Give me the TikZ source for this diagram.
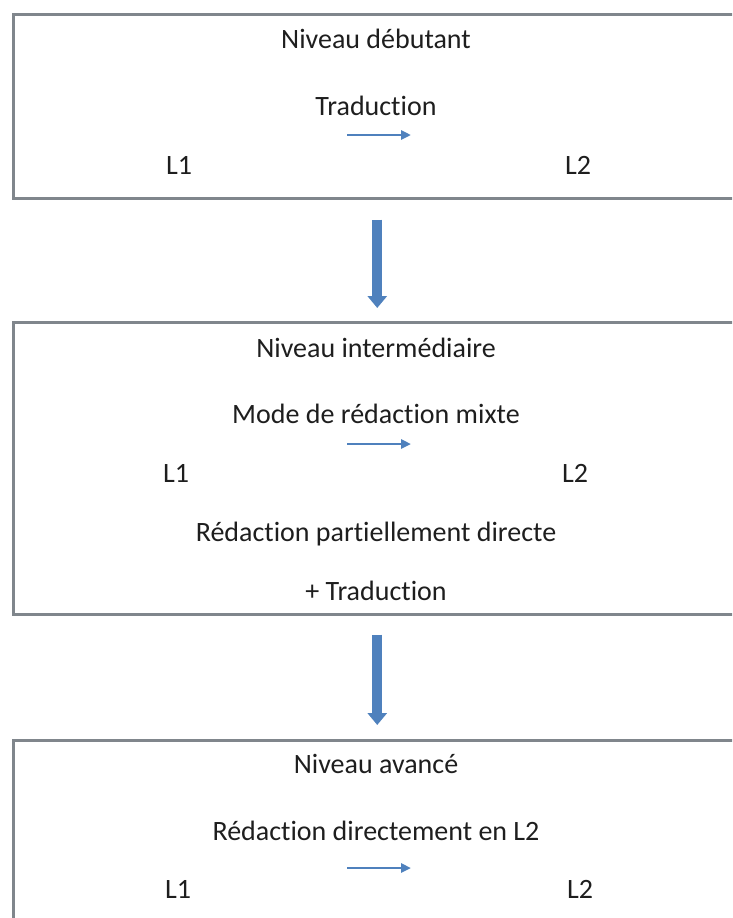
\documentclass[tikz,border=0pt]{standalone}
\usepackage{fontspec}
\setmainfont[Ligatures=NoCommon]{Carlito}
\usetikzlibrary{positioning, arrows.meta}

\definecolor{boxgray}{RGB}{128,134,140}
\definecolor{flowblue}{RGB}{79,129,189}
\definecolor{textgray}{RGB}{30,30,30}

\begin{document}
\begin{tikzpicture}[x=1pt, y=-1pt, font=\fontsize{28}{34}\selectfont, text=textgray]
  \tikzstyle{level}=[draw=boxgray, line width=2.5pt, minimum width=728pt, anchor=north west, inner sep=0pt]
  \tikzstyle{lbl}=[anchor=base, inner sep=0pt]
  \tikzstyle{bigarrow}=[flowblue, line width=10pt, -{Triangle[width=19pt, length=12pt]}]
  \tikzstyle{smallarrow}=[flowblue, line width=2.5pt, -{Triangle[width=9pt, length=10pt]}]

  \useasboundingbox (0,0) rectangle (732,918);
  \clip (0,0) rectangle (732,918);

  % levels
  \node[level, minimum height=184pt] (debutant) at (12,13) {};
  \node[level, minimum height=292pt] (inter) at (12,321) {};
  \node[level, minimum height=200pt] (avance) at (12,739) {};

  % beginner
  \node[lbl] (titre1) at (376,48) {Niveau débutant};
  \node[lbl] (mode1) at (376,115) {Traduction};
  \node[lbl] (src1) at (179,174) {L1};
  \node[lbl] (dst1) at (578,174) {L2};
  \coordinate (from1) at (347,135);
  \coordinate (to1) at (411,135);
  \draw[smallarrow] (from1) -- (to1);

  % intermediate
  \node[lbl] (titre2) at (376,357) {Niveau intermédiaire};
  \node[lbl] (mode2) at (376,423) {Mode de rédaction mixte};
  \node[lbl] (src2) at (176,482) {L1};
  \node[lbl] (dst2) at (575,482) {L2};
  \node[lbl] (note2) at (376,541) {Rédaction partiellement directe};
  \node[lbl] (plus2) at (376,600) {+ Traduction};
  \coordinate (from2) at (347,444);
  \coordinate (to2) at (411,444);
  \draw[smallarrow] (from2) -- (to2);

  % advanced
  \node[lbl] (titre3) at (376,773) {Niveau avancé};
  \node[lbl] (mode3) at (376,840) {Rédaction directement en L2};
  \node[lbl] (src3) at (178,898) {L1};
  \node[lbl] (dst3) at (580,898) {L2};
  \coordinate (from3) at (347,868);
  \coordinate (to3) at (411,868);
  \draw[smallarrow] (from3) -- (to3);

  \draw[bigarrow, shorten <=20pt, shorten >=13pt] (debutant.south) -- (inter.north);
  \draw[bigarrow, shorten <=19pt, shorten >=14pt] (inter.south) -- (avance.north);
\end{tikzpicture}
\end{document}
